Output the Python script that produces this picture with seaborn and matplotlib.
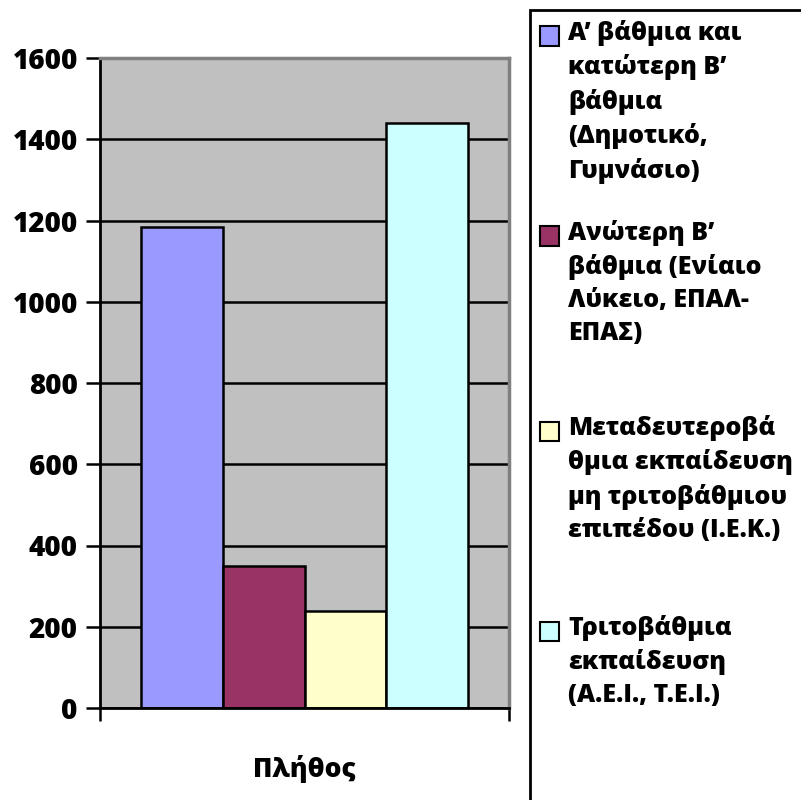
import matplotlib
matplotlib.use("Agg")
import matplotlib.pyplot as plt
import seaborn as sns
import pandas as pd
from matplotlib.patches import Rectangle

category = ["Πλήθος"]
levels = [
    "Α’ βάθμια και\nκατώτερη Β’\nβάθμια\n(Δημοτικό,\nΓυμνάσιο)",
    "Ανώτερη Β’\nβάθμια (Ενίαιο\nΛύκειο, ΕΠΑΛ-\nΕΠΑΣ)",
    "Μεταδευτεροβά\nθμια εκπαίδευση\nμη τριτοβάθμιου\nεπιπέδου (Ι.Ε.Κ.)",
    "Τριτοβάθμια\nεκπαίδευση\n(Α.Ε.Ι., Τ.Ε.Ι.)",
]
values = [1185, 350, 238, 1440]
colors = ["#9999FF", "#993366", "#FFFFCC", "#CCFFFF"]
yticks = [0, 200, 400, 600, 800, 1000, 1200, 1400, 1600]

df = pd.DataFrame({"cat": category * len(levels), "level": levels, "value": values})

sns.set_theme(style="white")
FONT = ["Open Sans", "DejaVu Sans"]
WEIGHT = 800
plt.rcParams["font.family"] = FONT
plt.rcParams["font.weight"] = "bold"
plt.rcParams["text.color"] = "black"
plt.rcParams["xtick.color"] = "black"
plt.rcParams["ytick.color"] = "black"

W, H = 801, 800
fig = plt.figure(figsize=(W / 100, H / 100), dpi=100)
ax = fig.add_axes([100 / W, (H - 708) / H, 409 / W, 650 / H])
ax.set_facecolor("#C0C0C0")

sns.barplot(data=df, x="cat", y="value", hue="level", hue_order=levels,
            palette=colors, saturation=1, edgecolor="black", linewidth=1.8,
            width=0.8, legend=False, ax=ax, zorder=3)

ax.set_ylim(0, 1600)
ax.set_xlim(-0.5, 0.5)
ax.set_yticks(yticks)
ax.set_yticklabels([str(v) for v in yticks], fontsize=20, fontweight=WEIGHT,
                   color="black")
ax.yaxis.grid(True, color="black", linewidth=1.8, zorder=1)
ax.set_axisbelow(True)
ax.tick_params(axis="y", direction="out", length=10, width=1.8, color="black",
               pad=6, left=True)
ax.set_xticks([0])
ax.set_xticklabels(category, fontsize=19, fontweight=WEIGHT, color="black")
ax.tick_params(axis="x", which="major", length=0, pad=34)
ax.set_xticks([-0.5, 0.5], minor=True)
ax.tick_params(axis="x", which="minor", direction="out", length=9, width=1.8,
               color="black", bottom=True)
ax.set_xlabel("")
ax.set_ylabel("")
for s in ["left", "bottom"]:
    ax.spines[s].set_color("black")
    ax.spines[s].set_linewidth(2)
for s in ["top", "right"]:
    ax.spines[s].set_color("#808080")
    ax.spines[s].set_linewidth(2.5)
for s in ax.spines.values():
    s.set_zorder(4)

# legend (Excel style: box with entries, square marker at first line)
fig.patches.append(Rectangle((530 / W, -0.05), 0.5, (H - 10) / H + 0.05,
                             transform=fig.transFigure, facecolor="white",
                             edgecolor="black", linewidth=2, zorder=0))
centers = [36, 236, 431, 631]
sq = 19
for lab, col, cy in zip(levels, colors, centers):
    fig.patches.append(Rectangle((540 / W, (H - cy - sq / 2) / H), sq / W, sq / H,
                                 transform=fig.transFigure, facecolor=col,
                                 edgecolor="black", linewidth=1.5, zorder=2))
    fig.text(568 / W, (H - cy + 16) / H, lab, fontsize=18, fontweight=WEIGHT,
             family=FONT, va="top", ha="left", linespacing=1.42,
             color="black")

fig.savefig("out.png", dpi=100)
